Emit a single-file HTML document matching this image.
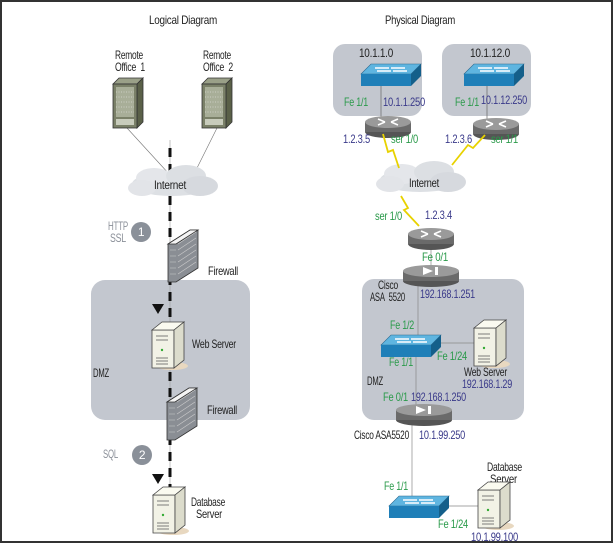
<!DOCTYPE html>
<html><head><meta charset="utf-8"><style>
html,body{margin:0;padding:0;background:#fff;}
svg{display:block;}
text{font-family:"Liberation Sans Narrow","Liberation Sans",sans-serif;font-size:12px;fill:#222;letter-spacing:-0.3px;}
.g{fill:#2a9a4a;} .b{fill:#3a3a8a;} .gr{fill:#8a8f98;}
</style></head><body>
<svg width="614" height="545" viewBox="0 0 614 545" xmlns="http://www.w3.org/2000/svg">
<defs>
<g id="sw">
  <polygon points="0,10 10,0 60,0 50,10" fill="#5fb5e0" stroke="#2a6a90" stroke-width="0.6"/>
  <rect x="0" y="10" width="50" height="12" fill="#1f7fb8"/>
  <polygon points="50,10 60,0 60,12 50,22" fill="#145f8a"/>
  <path d="M14,4h14M30,4h14M16,7h14M32,7h14" stroke="#fff" stroke-width="1.4"/>
</g>
<g id="rt">
  <ellipse cx="0" cy="10" rx="23" ry="6" fill="#555"/>
  <rect x="-23" y="0" width="46" height="10" fill="#6a6a6a"/>
  <ellipse cx="0" cy="0" rx="23" ry="6" fill="#9a9a9a"/>
  <path d="M-10,-3l7,3M-10,3l7,-3M10,-3l-7,3M10,3l-7,-3" stroke="#fff" stroke-width="1.5"/>
</g>
<g id="asa">
  <ellipse cx="0" cy="10" rx="28" ry="6" fill="#555"/>
  <rect x="-28" y="0" width="56" height="10" fill="#6a6a6a"/>
  <ellipse cx="0" cy="0" rx="28" ry="6" fill="#9a9a9a"/>
  <polygon points="-8,-4 2,0 -8,4" fill="#fff"/><rect x="4" y="-4" width="3" height="8" fill="#fff"/>
</g>
<g id="srv">
  <ellipse cx="20" cy="44" rx="16" ry="4" fill="#e8d8c0"/>
  <polygon points="0,8 22,8 22,46 0,46" fill="#f2f2e6" stroke="#444" stroke-width="0.8"/>
  <polygon points="0,8 10,0 32,0 22,8" fill="#fafaf0" stroke="#444" stroke-width="0.8"/>
  <polygon points="22,8 32,0 32,38 22,46" fill="#dcdccc" stroke="#444" stroke-width="0.8"/>
  <path d="M4,14h12M4,18h12M4,36h12M4,39h12M4,42h12" stroke="#555" stroke-width="0.8"/>
  <circle cx="10" cy="28" r="1.2" fill="#3a3"/>
</g>
<g id="tower">
  <polygon points="0,6 6,0 30,0 24,6" fill="#9aa088" stroke="#333" stroke-width="0.8"/>
  <polygon points="24,6 30,0 30,44 24,50" fill="#5a6048" stroke="#333" stroke-width="0.8"/>
  <rect x="0" y="6" width="24" height="44" fill="#7a8068" stroke="#333" stroke-width="0.8"/>
  <rect x="3" y="9" width="18" height="30" fill="#a8ae98"/>
  <path d="M3,14h18M3,19h18M3,24h18M3,29h18M3,34h18" stroke="#eee" stroke-width="0.5" stroke-dasharray="1,1.5"/>
  <rect x="3" y="41" width="18" height="6" fill="#c8ccbc"/>
</g>
<g id="cloud">
  <ellipse cx="0" cy="0" rx="40" ry="12" fill="#dde0e4"/>
  <ellipse cx="-18" cy="-6" rx="18" ry="10" fill="#e4e6ea"/>
  <ellipse cx="14" cy="-8" rx="20" ry="11" fill="#dcdfe3"/>
  <ellipse cx="28" cy="2" rx="18" ry="10" fill="#d6d9de"/>
  <ellipse cx="-30" cy="4" rx="14" ry="8" fill="#e2e4e8"/>
</g>
<g id="fw">
  <polygon points="0,14 22,0 30,0 30,38 8,52 0,52" fill="#8a8e94" stroke="#333" stroke-width="0.8"/>
  <polygon points="0,14 22,0 30,0 8,14" fill="#f4f4f4" stroke="#333" stroke-width="0.8"/>
  <path d="M2,20h6M2,26h6M2,32h6M2,38h6M2,44h6M10,14l18,-12M10,20l18,-12M10,26l18,-12M10,32l18,-12M10,38l18,-12M10,44l18,-12" stroke="#ccc" stroke-width="0.6"/>
</g>
</defs>
<rect x="1" y="1" width="611" height="541" fill="#fff" stroke="#333" stroke-width="2"/>

<!-- LEFT -->
<text x="183" y="24" text-anchor="middle" textLength="68" lengthAdjust="spacingAndGlyphs">Logical Diagram</text>
<rect x="91" y="280" width="159" height="140" rx="14" fill="#c3c7cf"/>
<line x1="127" y1="128" x2="170" y2="175" stroke="#777" stroke-width="0.6"/>
<line x1="217" y1="128" x2="196" y2="170" stroke="#777" stroke-width="0.6"/>
<line x1="170" y1="140" x2="170" y2="500" stroke="#999" stroke-width="0.6"/>
<line x1="170" y1="148" x2="170" y2="490" stroke="#111" stroke-width="3" stroke-dasharray="9,7"/>
<text x="115" y="59" textLength="28" lengthAdjust="spacingAndGlyphs">Remote</text><text x="115" y="71" textLength="30" lengthAdjust="spacingAndGlyphs">Office&#160;&#160;1</text>
<text x="203" y="59" textLength="28" lengthAdjust="spacingAndGlyphs">Remote</text><text x="203" y="71" textLength="30" lengthAdjust="spacingAndGlyphs">Office&#160;&#160;2</text>
<use href="#tower" x="113" y="78"/>
<use href="#tower" x="202" y="78"/>
<use href="#cloud" x="172" y="184"/>
<text x="170" y="189" text-anchor="middle" textLength="32" lengthAdjust="spacingAndGlyphs">Internet</text>
<text x="108" y="230" class="gr" textLength="20" lengthAdjust="spacingAndGlyphs">HTTP</text><text x="110" y="242" class="gr" textLength="16" lengthAdjust="spacingAndGlyphs">SSL</text>
<circle cx="141" cy="232" r="10" fill="#8a9099"/><text x="141" y="236" text-anchor="middle" style="fill:#fff">1</text>
<use href="#fw" x="168" y="230"/>
<text x="208" y="275" textLength="30" lengthAdjust="spacingAndGlyphs">Firewall</text>
<polygon points="152,304 164,304 158,314" fill="#111"/>
<use href="#srv" x="152" y="322"/>
<text x="192" y="348" textLength="44" lengthAdjust="spacingAndGlyphs">Web Server</text>
<text x="93" y="377" textLength="16" lengthAdjust="spacingAndGlyphs">DMZ</text>
<use href="#fw" x="167" y="388"/>
<text x="207" y="414" textLength="30" lengthAdjust="spacingAndGlyphs">Firewall</text>
<text x="103" y="458" class="gr" textLength="15" lengthAdjust="spacingAndGlyphs">SQL</text>
<circle cx="142" cy="455" r="10" fill="#8a9099"/><text x="142" y="459" text-anchor="middle" style="fill:#fff">2</text>
<polygon points="152,474 164,474 158,484" fill="#111"/>
<use href="#srv" x="153" y="487"/>
<text x="191" y="506" textLength="34" lengthAdjust="spacingAndGlyphs">Database</text><text x="196" y="518" textLength="26" lengthAdjust="spacingAndGlyphs">Server</text>

<!-- RIGHT -->
<text x="420" y="24" text-anchor="middle" textLength="70" lengthAdjust="spacingAndGlyphs">Physical Diagram</text>
<rect x="333" y="44" width="89" height="72" rx="12" fill="#c3c7cf"/>
<rect x="442" y="44" width="89" height="72" rx="12" fill="#c3c7cf"/>
<rect x="362" y="279" width="162" height="141" rx="12" fill="#c3c7cf"/>
<line x1="381" y1="86" x2="381" y2="118" stroke="#666" stroke-width="0.7"/>
<line x1="487" y1="86" x2="487" y2="120" stroke="#666" stroke-width="0.7"/>
<line x1="431" y1="244" x2="431" y2="270" stroke="#888" stroke-width="0.7"/>
<line x1="418" y1="282" x2="418" y2="336" stroke="#888" stroke-width="0.7"/>
<line x1="416" y1="357" x2="416" y2="410" stroke="#888" stroke-width="0.7"/>
<line x1="441" y1="343" x2="474" y2="343" stroke="#888" stroke-width="0.7"/>
<line x1="412" y1="420" x2="412" y2="497" stroke="#888" stroke-width="0.7"/>
<line x1="449" y1="506" x2="478" y2="506" stroke="#888" stroke-width="0.7"/>
<text x="376" y="57" text-anchor="middle" textLength="34" lengthAdjust="spacingAndGlyphs">10.1.1.0</text>
<text x="490" y="57" text-anchor="middle" textLength="40" lengthAdjust="spacingAndGlyphs">10.1.12.0</text>
<use href="#sw" x="361" y="64"/>
<use href="#sw" x="464" y="64"/>
<text x="344" y="106" class="g" textLength="24" lengthAdjust="spacingAndGlyphs">Fe 1/1</text><text x="383" y="106" class="b" textLength="42" lengthAdjust="spacingAndGlyphs">10.1.1.250</text>
<text x="455" y="106" class="g" textLength="24" lengthAdjust="spacingAndGlyphs">Fe 1/1</text><text x="481" y="104" class="b" textLength="46" lengthAdjust="spacingAndGlyphs">10.1.12.250</text>
<use href="#rt" x="388" y="122"/>
<use href="#rt" x="496" y="124"/>
<text x="343" y="143" class="b" textLength="27" lengthAdjust="spacingAndGlyphs">1.2.3.5</text><text x="391" y="143" class="g" textLength="27" lengthAdjust="spacingAndGlyphs">ser 1/0</text>
<text x="445" y="143" class="b" textLength="27" lengthAdjust="spacingAndGlyphs">1.2.3.6</text><text x="491" y="143" class="g" textLength="27" lengthAdjust="spacingAndGlyphs">ser 1/1</text>
<use href="#cloud" x="420" y="180"/>
<text x="409" y="187" textLength="30" lengthAdjust="spacingAndGlyphs">Internet</text>
<polyline points="383,134 388,152 393,150 399,168" fill="none" stroke="#e8d200" stroke-width="1.8"/>
<polyline points="485,135 473,148 468,145 452,165" fill="none" stroke="#e8d200" stroke-width="1.8"/>
<polyline points="401,196 408,208 404,210 419,226" fill="none" stroke="#e8d200" stroke-width="1.8"/>
<text x="375" y="220" class="g" textLength="27" lengthAdjust="spacingAndGlyphs">ser 1/0</text><text x="425" y="219" class="b" textLength="27" lengthAdjust="spacingAndGlyphs">1.2.3.4</text>
<use href="#rt" x="431" y="234"/>
<text x="422" y="261" class="g" textLength="26" lengthAdjust="spacingAndGlyphs">Fe 0/1</text>
<use href="#asa" x="431" y="271"/>
<text x="378" y="289" textLength="20" lengthAdjust="spacingAndGlyphs">Cisco</text><text x="370" y="301" textLength="35" lengthAdjust="spacingAndGlyphs">ASA&#160;&#160;5520</text>
<text x="420" y="298" class="b" textLength="55" lengthAdjust="spacingAndGlyphs">192.168.1.251</text>
<text x="390" y="329" class="g" textLength="24" lengthAdjust="spacingAndGlyphs">Fe 1/2</text>
<use href="#sw" x="381" y="335"/>
<text x="389" y="366" class="g" textLength="24" lengthAdjust="spacingAndGlyphs">Fe 1/1</text>
<text x="437" y="360" class="g" textLength="30" lengthAdjust="spacingAndGlyphs">Fe 1/24</text>
<use href="#srv" x="474" y="320"/>
<text x="464" y="376" textLength="43" lengthAdjust="spacingAndGlyphs">Web Server</text>
<text x="462" y="388" class="b" textLength="50" lengthAdjust="spacingAndGlyphs">192.168.1.29</text>
<text x="367" y="385" textLength="16" lengthAdjust="spacingAndGlyphs">DMZ</text>
<text x="383" y="401" class="g" textLength="25" lengthAdjust="spacingAndGlyphs">Fe 0/1</text><text x="411" y="401" class="b" textLength="55" lengthAdjust="spacingAndGlyphs">192.168.1.250</text>
<use href="#asa" x="424" y="410"/>
<text x="354" y="439" textLength="55" lengthAdjust="spacingAndGlyphs">Cisco ASA5520</text><text x="419" y="439" class="b" textLength="46" lengthAdjust="spacingAndGlyphs">10.1.99.250</text>
<text x="487" y="471" textLength="35" lengthAdjust="spacingAndGlyphs">Database</text><text x="490" y="483" textLength="27" lengthAdjust="spacingAndGlyphs">Server</text>
<text x="384" y="490" class="g" textLength="24" lengthAdjust="spacingAndGlyphs">Fe 1/1</text>
<use href="#sw" x="389" y="496"/>
<text x="438" y="528" class="g" textLength="30" lengthAdjust="spacingAndGlyphs">Fe 1/24</text>
<use href="#srv" x="478" y="482"/>
<text x="471" y="541" class="b" textLength="47" lengthAdjust="spacingAndGlyphs">10.1.99.100</text>
</svg>
</body></html>
